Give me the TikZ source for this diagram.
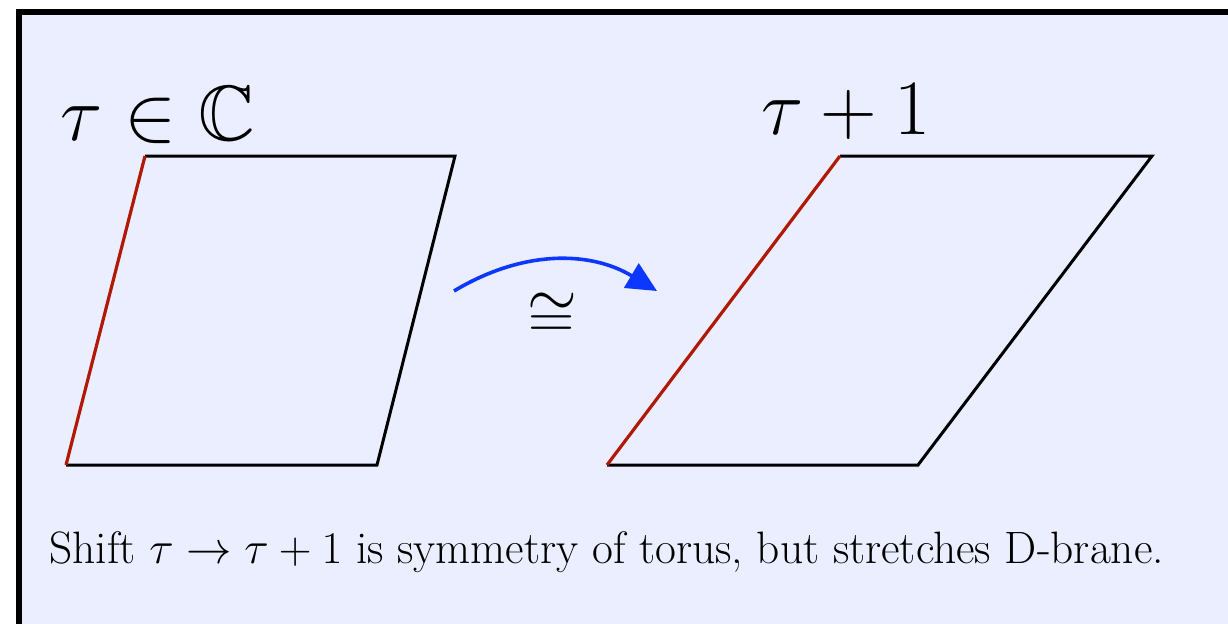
\documentclass[tikz,border=0pt]{standalone}
\usepackage{fix-cm}
\usepackage{amsmath, amssymb}
\usepackage{xcolor}
\usepackage{tikz}
\usetikzlibrary{calc, arrows.meta, positioning}

\definecolor{bgblue}{RGB}{235,238,255}
\definecolor{branered}{RGB}{175,25,5}
\definecolor{arrowblue}{RGB}{12,55,255}

\begin{document}
\begin{tikzpicture}[x=0.5pt, y=0.5pt, line join=miter,
    cell/.style={line width=1.5pt},
    brane/.style={line width=1.6pt, draw=branered},
    biglabel/.style={anchor=base west, inner sep=0pt, font=\fontsize{39.2}{46}\selectfont}]
    \useasboundingbox (0,0) rectangle (1228,623);
    \clip (0,0) rectangle (1228,623);

    % 1. Nền và khung
    \fill[white] (0,0) rectangle (1228,623);
    \draw[line width=3pt, fill=bgblue] (18.5,611) rectangle (1300,-100);

    % 2. Hình bình hành thứ nhất
    \coordinate (A1) at (66,158);
    \coordinate (B1) at (377,158);
    \coordinate (C1) at (455,467);
    \coordinate (D1) at (145,467);
    \draw[cell] (D1) -- (C1) -- (B1) -- (A1);
    \draw[brane] (A1) -- (D1);

    % 3. Hình bình hành thứ hai
    \coordinate (A2) at (607,158);
    \coordinate (B2) at (918,158);
    \coordinate (C2) at (1152,467);
    \coordinate (D2) at (840,467);
    \draw[cell] (D2) -- (C2) -- (B2) -- (A2);
    \draw[brane] (A2) -- (D2);

    % 4. Mũi tên cong
    \coordinate (arcstart) at (454,332);
    \coordinate (arcend) at (657,332);
    \draw[-{Triangle[length=15pt, width=14pt]}, line width=1.8pt, draw=arrowblue]
        (arcstart) to[bend left=31] (arcend);
    \node[inner sep=0pt, font=\fontsize{32}{38}\selectfont] (cong) at (552,307) {$\cong$};

    % 5. Nhãn
    \node[biglabel] (tauC) at (60,483) {$\tau \in \mathbb{C}$};
    \node[biglabel] (tauOne) at (761,488) {$\tau + 1$};
    \node[anchor=base west, inner sep=0pt, font=\fontsize{22.7}{27}\selectfont] (caption) at (49,60)
        {Shift $\tau \to \tau + 1$ is symmetry of torus, but stretches D-brane.};
\end{tikzpicture}
\end{document}
